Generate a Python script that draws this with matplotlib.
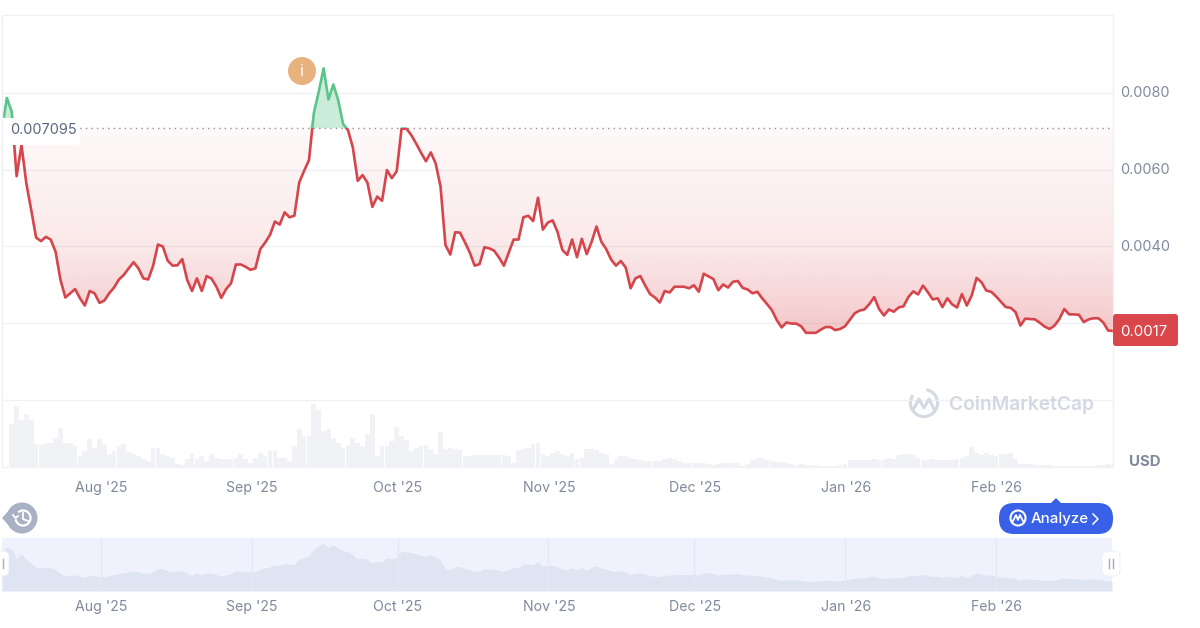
import matplotlib
matplotlib.use("Agg")
import matplotlib.dates as mdates
import matplotlib.pyplot as plt
import numpy as np
import pandas as pd
from matplotlib.patches import Arc, Circle, FancyBboxPatch, Polygon

plt.rcParams["font.family"] = ["Inter", "DejaVu Sans"]

# prices in units of 1e-4 USD
prices = [
    70.7, 78.7, 75.1, 58.3, 66.4, 56.4, 49.5, 42.3, 41.4, 42.5, 41.8, 38.6, 31.3, 26.7, 27.8, 28.9,
    26.5, 24.6, 28.4, 27.8, 25.3, 25.9, 27.8, 29.3, 31.4, 32.6, 34.3, 35.9, 34.3, 31.7, 31.4, 34.9,
    40.5, 40.0, 36.3, 35.0, 35.1, 36.7, 31.3, 28.4, 31.7, 28.4, 32.3, 31.6, 29.5, 26.6, 28.9, 30.4,
    35.3, 35.3, 34.7, 33.9, 34.3, 39.3, 41.0, 43.0, 46.5, 45.7, 48.9, 47.6, 48.0, 56.7, 59.7, 62.5,
    74.8, 80.3, 86.4, 78.3, 82.2, 78.1, 71.9, 70.3, 65.8, 57.1, 58.6, 56.6, 50.3, 53.0, 51.9, 59.9,
    57.8, 59.6,
    70.7, 70.7, 69.0, 66.8, 64.4, 62.2, 64.5, 61.6, 55.6, 40.4, 37.9, 43.7, 43.6, 41.1, 38.4, 35.0,
    35.4, 39.8, 39.5, 38.9, 37.1, 35.0, 38.4, 41.8, 41.8, 47.6, 48.0, 46.6, 52.7, 44.4, 46.2, 46.8,
    43.8, 39.1, 37.8, 41.8, 37.2, 42.0, 38.0, 41.2, 45.2, 41.2, 39.3, 36.6, 35.0, 36.2, 34.5, 29.1,
    31.7, 32.3, 29.8, 27.6, 26.7, 25.4, 28.4, 28.0, 29.5, 29.5, 29.5, 29.1, 29.9, 28.2, 32.9, 32.2,
    31.5, 28.6, 30.1, 29.3, 30.8, 31.0, 29.2, 28.8, 27.8, 28.2, 26.5, 25.0, 23.4, 20.8, 18.9,
    20.2, 19.9, 19.9, 19.2, 17.5, 17.5, 17.5, 18.3, 19.0, 19.0, 18.2, 18.5, 19.2, 20.9, 22.6, 23.3,
    23.6, 25.0, 26.8, 23.7, 22.0, 23.6, 23.0, 24.1, 24.4, 26.8, 28.3, 27.5, 29.8, 28.1, 26.2, 26.5,
    24.2, 26.5, 24.9, 24.1, 27.6, 24.6, 27.2, 31.8, 30.7, 28.5, 28.2, 27.0, 25.6, 24.2, 24.0, 22.9,
    19.4, 21.2, 21.1, 21.0, 20.1, 19.1, 18.5, 19.4, 21.1, 23.7, 22.3, 22.3, 22.2, 20.3, 21.0, 21.3,
    21.3, 20.2, 18.1, 18.0,
]

# volume bars, relative height
volumes = [
    128, 183, 141, 158, 141, 68, 65, 68, 73, 88, 116, 73, 73, 63, 33, 48, 83, 58, 85, 65, 38, 48, 63,
    68, 45, 38, 33, 25, 18, 58, 58, 38, 33, 28, 8, 6, 23, 38, 23, 33, 18, 38, 28, 25, 23, 23, 28,
    38, 23, 11, 28, 43, 33, 48, 48, 28, 28, 18, 63, 113, 91, 93, 188, 171, 108, 113, 88, 73, 58,
    65, 88, 73, 63, 98, 158, 33, 63, 63, 78, 118,
    93, 81, 48, 58, 63, 65, 53, 38, 105, 53, 58, 53, 51, 33, 33, 35, 35, 35, 35, 37, 35, 35, 33, 13,
    50, 53, 58, 68, 73, 38, 33, 43, 48, 38, 33, 41, 23, 28, 53, 53, 51, 43, 38, 8, 23, 33, 33, 28, 23,
    20, 18, 18, 18, 18, 23, 28, 23, 18, 13, 13, 13, 13, 13, 8, 5, 8, 11, 11, 11, 13, 3, 8, 20, 28, 26,
    22, 18, 16, 14, 12, 8, 6, 10,
    5, 5, 5, 2, 2, 2, 2, 5, 10, 20, 20, 22, 20, 22, 25, 22, 20, 28, 25, 35, 38, 38, 35, 28, 20, 22, 25,
    22, 20, 20, 20, 25, 28, 32, 60, 42, 35, 42, 35, 32, 38, 40, 42, 25, 10, 10, 8, 6, 6, 5, 5, 4, 4, 4,
    3, 3, 3, 3, 3, 3, 5, 5, 8, 8, 5,
]

month_ticks = ["2025-08-01", "2025-09-01", "2025-10-01", "2025-11-01", "2025-12-01", "2026-01-01", "2026-02-01"]
month_labels = ["Aug '25", "Sep '25", "Oct '25", "Nov '25", "Dec '25", "Jan '26", "Feb '26"]
price_ticks = [0.002, 0.004, 0.006, 0.008]
price_labels = ["", "0.0040", "0.0060", "0.0080"]
base_price = 0.007095
last_price = "0.0017"

W, H = 1200, 628
RED = "#d5454b"
GREEN = "#5cc48b"
GREY = "#808a9d"
GRID = "#f0f1f4"

fig = plt.figure(figsize=(12, 6.28), dpi=100)


def add_axes(left, top, right, bottom):
    return fig.add_axes([left / W, 1 - bottom / H, (right - left) / W, (bottom - top) / H])


y = np.array(prices) * 1e-4
x = mdates.date2num(pd.date_range("2025-07-11 16:00", "2026-02-24 20:00", periods=len(y)))
tick_x = mdates.date2num(pd.to_datetime(month_ticks))
xlim = (x[0], x[-1])

# main price panel
ax = add_axes(2, 15, 1113, 400)
ax.set_xlim(xlim)
ax.set_ylim(0, 0.01003)
ax.patch.set_alpha(0)
for s in ax.spines.values():
    s.set_visible(False)
ax.tick_params(left=False, bottom=False, labelleft=False, labelbottom=False)
ax.set_yticks(price_ticks)
ax.grid(axis="y", color=GRID, lw=1)
ax.set_axisbelow(True)

# red gradient under the base line
clip = ax.fill_between(x, np.minimum(y, base_price), base_price, facecolor="none", edgecolor="none")
levels = np.linspace(0.0012, base_price, 256)
grad = np.zeros((256, 1, 4))
grad[..., 0] = 216 / 255
grad[..., 1] = 60 / 255
grad[..., 2] = 66 / 255
grad[:, 0, 3] = np.interp(levels, [0.0012, 0.002, 0.0028, 0.004, 0.006, base_price], [0.30, 0.27, 0.20, 0.115, 0.06, 0.03])
grad_img = ax.imshow(grad, extent=(x[0], x[-1], 0.0012, base_price), origin="lower", aspect="auto", zorder=1)
grad_img.set_clip_path(clip.get_paths()[0], transform=ax.transData)
ax.set_xlim(xlim)
ax.set_ylim(0, 0.01003)

# green area above it
ax.fill_between(x, base_price, np.maximum(y, base_price), color="#cbecd9", lw=0, zorder=1)

ax.axhline(base_price, color="#8d94a3", lw=1, ls=(0, (1, 3)), zorder=2)

# line split at the base price
red_line, = ax.plot(x, y, color=RED, lw=1.9, zorder=3, solid_joinstyle="round")
green_line, = ax.plot(x, y, color=GREEN, lw=1.9, zorder=3, solid_joinstyle="round")
below = plt.Rectangle((x[0], 0), x[-1] - x[0], base_price, transform=ax.transData)
above = plt.Rectangle((x[0], base_price), x[-1] - x[0], 0.01, transform=ax.transData)
red_line.set_clip_path(below)
green_line.set_clip_path(above)

# volume panel
ax_vol = add_axes(2, 400, 1113, 467)
ax_vol.set_xlim(xlim)
ax_vol.set_ylim(0, 200)
ax_vol.patch.set_alpha(0)
for s in ax_vol.spines.values():
    s.set_visible(False)
ax_vol.tick_params(left=False, bottom=False, labelleft=False, labelbottom=False)
n_vol = min(len(volumes), len(x) - 2)
ax_vol.bar(x[2:2 + n_vol], volumes[:n_vol], width=(x[1] - x[0]) * 0.97, color="#f1f2f6", lw=0)

# navigator
ax_nav = add_axes(2, 538, 1112, 591)
ax_nav.set_facecolor("#eff2fc")
ax_nav.set_xlim(xlim)
ax_nav.set_ylim(0, 0.0095)
for s in ax_nav.spines.values():
    s.set_visible(False)
ax_nav.tick_params(left=False, bottom=False, labelleft=False, labelbottom=False)
ax_nav.fill_between(x, y, color="#dfe4f2", lw=0, zorder=2)
for t in tick_x:
    ax_nav.axvline(t, color="#e4e8f4", lw=1, zorder=3)

# overlay in pixel coordinates for the page furniture
ui = fig.add_axes([0, 0, 1, 1])
ui.set_xlim(0, W)
ui.set_ylim(H, 0)
ui.axis("off")
ui.patch.set_alpha(0)

ui.plot([2, 2, 1113, 1113], [467, 15, 15, 467], color=GRID, lw=1)
ui.plot([2, 1113], [400, 400], color=GRID, lw=1)
ui.plot([2, 1113], [466.5, 466.5], color="#f1f2f6", lw=1)

for t, lab in zip(tick_x, month_labels):
    px = 2 + (t - x[0]) / (x[-1] - x[0]) * 1111
    ui.text(px, 488, lab, color=GREY, fontsize=10.2, ha="center", va="center")
    ui.text(px, 607, lab, color=GREY, fontsize=10.2, ha="center", va="center")

for p, lab in zip(price_ticks, price_labels):
    ui.text(1120.5, 400.5 - p / 0.01003 * 385, lab, color=GREY, fontsize=10.4, ha="left", va="center")
ui.text(1129, 462.5, "USD", color=GREY, fontsize=10.8, fontweight="bold", ha="left", va="center")

# base price label
ui.add_patch(FancyBboxPatch((6, 118), 74, 27, boxstyle="round,pad=0,rounding_size=5", fc="white", ec="none", zorder=4))
ui.add_patch(plt.Rectangle((3, 118), 20, 27, fc="white", ec="none", zorder=4))
ui.text(10, 130, "0.007095", color="#58667e", fontsize=10.4, ha="left", va="center", zorder=5)

# last price tag
ui.add_patch(FancyBboxPatch((1113, 314), 65, 32, boxstyle="round,pad=0,rounding_size=3", fc="#d9474c", ec="none", zorder=4))
ui.text(1144, 331.5, last_price, color="white", fontsize=10.8, ha="center", va="center", zorder=5)

# info marker
ui.add_patch(Circle((302, 71), 14, fc="#e8b27e", ec="none", zorder=5))
ui.text(302, 72, "i", color="white", fontsize=12, ha="center", va="center", zorder=6)

# watermark
wm = "#d3d8e2"
ui.add_patch(Arc((924, 403), 27, 27, theta1=-80, theta2=215, color=wm, lw=2.2))
ui.plot([913, 919, 924, 929, 934], [410, 399, 408, 399, 409], color=wm, lw=2.2, solid_joinstyle="round")
ui.text(949, 405, "CoinMarketCap", color=wm, fontsize=13.8, fontweight="semibold", ha="left", va="center")

# analyze button
ui.add_patch(FancyBboxPatch((999, 503), 114, 31, boxstyle="round,pad=0,rounding_size=15", fc="#3861e8", ec="none", zorder=4))
ui.add_patch(Polygon([[1051, 503], [1056, 498], [1061, 503]], fc="#3861e8", ec="none", zorder=4))
ui.add_patch(Circle((1018, 518), 7.5, fc="none", ec="white", lw=1.5, zorder=5))
ui.plot([1013, 1016, 1018, 1020, 1023], [521, 515, 520, 515, 521], color="white", lw=1.3, zorder=5)
ui.text(1031, 519.5, "Analyze", color="white", fontsize=10.8, fontweight="medium", ha="left", va="center", zorder=5)
ui.plot([1093, 1098, 1093], [514, 519, 524], color="white", lw=1.1, zorder=5)

# history button
ui.add_patch(Circle((22, 518), 15.5, fc="#a9b1c5", ec="none", zorder=4))
ui.add_patch(Polygon([[2, 518], [12, 507], [12, 529]], fc="#a9b1c5", ec="none", zorder=4))
ui.add_patch(Arc((23, 518), 15, 15, theta1=-130, theta2=170, color="white", lw=1.6, zorder=5))
ui.plot([23, 23, 28], [513, 519, 521], color="white", lw=1.3, zorder=5)
ui.plot([13, 15.5, 18], [515, 518, 516], color="white", lw=1.3, zorder=5)

# navigator handles
ui.add_patch(FancyBboxPatch((-8, 551), 17, 25, boxstyle="round,pad=0,rounding_size=6", fc="white", ec="#eceef3", lw=0.6, zorder=5))
ui.plot([2.5, 2.5], [559, 568], color="#a5acb9", lw=1, zorder=6)
ui.add_patch(FancyBboxPatch((1102, 551), 18, 25, boxstyle="round,pad=0,rounding_size=6", fc="white", ec="#eceef3", lw=0.6, zorder=5))
ui.plot([1109, 1109], [559, 568], color="#a5acb9", lw=1, zorder=6)
ui.plot([1113, 1113], [559, 568], color="#a5acb9", lw=1, zorder=6)

fig.savefig("out.png", dpi=100)
